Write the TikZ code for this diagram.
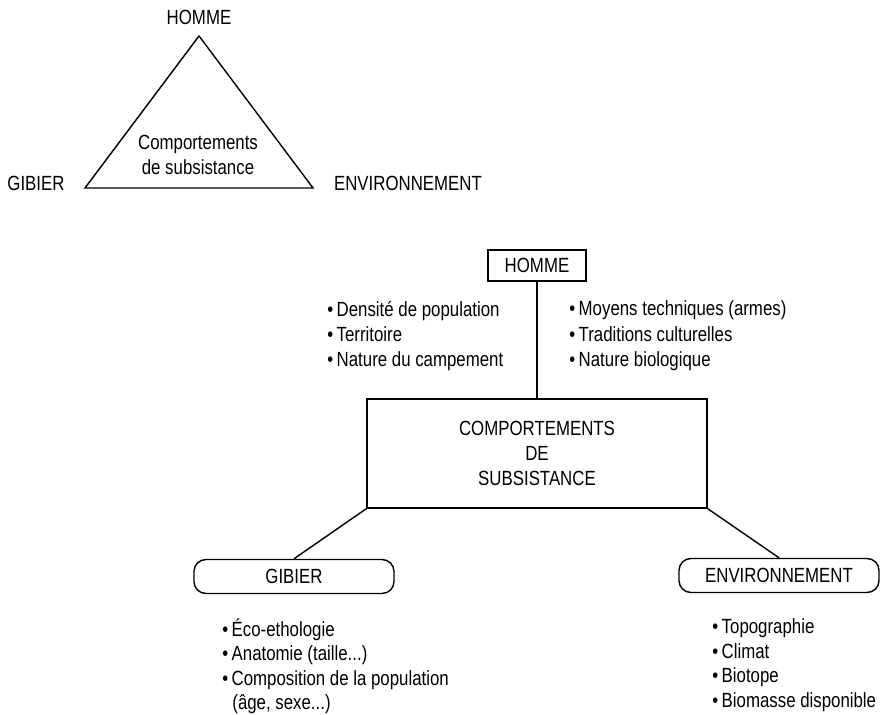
\documentclass[tikz,border=0pt]{standalone}
\usepackage{fontspec}
\setmainfont{Liberation Sans}[FakeStretch=0.82]
\usepackage{tikz}
\usetikzlibrary{positioning}

\begin{document}
\begin{tikzpicture}[x=0.025cm, y=-0.025cm, line width=1pt,
	every node/.style={font=\fontsize{14.6pt}{18pt}\selectfont},
	boite/.style={draw, line width=1pt, align=center},
	capsule/.style={draw, line width=1pt, rounded corners=0.3cm, minimum width=5cm, minimum height=0.85cm},
	liste/.style={anchor=west, align=left}]
	\useasboundingbox (0,0) rectangle (881,715);

	%%% Triangle
	\coordinate (sommet) at (199,36);
	\coordinate (baseG) at (85,188);
	\coordinate (baseD) at (313,188);
	\draw (sommet) -- (baseD) -- (baseG) -- cycle;
	\node (tHomme) at (199,17) {HOMME};
	\node (tGibier) at (36,183) {GIBIER};
	\node (tEnv) at (408,183) {ENVIRONNEMENT};
	\node[align=center] (tComp) at (198,155) {Comportements\\de subsistance};

	%%% Schema
	\node[boite, minimum width=2.45cm, minimum height=0.775cm] (homme) at (537,265.5) {HOMME};
	\node[boite, minimum width=8.5cm, minimum height=2.725cm] (comp) at (537,453.5) {COMPORTEMENTS\\DE\\SUBSISTANCE};
	\node[capsule] (gibier) at (294,576.5) {GIBIER};
	\node[capsule] (env) at (779,575.5) {ENVIRONNEMENT};

	\draw (comp.north) -- (homme.south);
	\draw (comp.south west) -- (gibier.north);
	\draw (comp.south east) -- (env.north);

	%%% Listes
	\node[liste] (lHomme) at (322,336) {\textbullet\,Densité de population\\\textbullet\,Territoire\\\textbullet\,Nature du campement};
	\node[liste] (rHomme) at (564,336) {\textbullet\,Moyens techniques (armes)\\\textbullet\,Traditions culturelles\\\textbullet\,Nature biologique};
	\node[liste, font=\fontsize{14.6pt}{17.4pt}\selectfont] (lGibier) at (217,666) {\textbullet\,Éco-ethologie\\\textbullet\,Anatomie (taille...)\\\textbullet\,Composition de la population\\\hspace{0.25cm}(âge, sexe...)};
	\node[liste, font=\fontsize{14.6pt}{17.4pt}\selectfont] (lEnv) at (707,665) {\textbullet\,Topographie\\\textbullet\,Climat\\\textbullet\,Biotope\\\textbullet\,Biomasse disponible};
\end{tikzpicture}
\end{document}
